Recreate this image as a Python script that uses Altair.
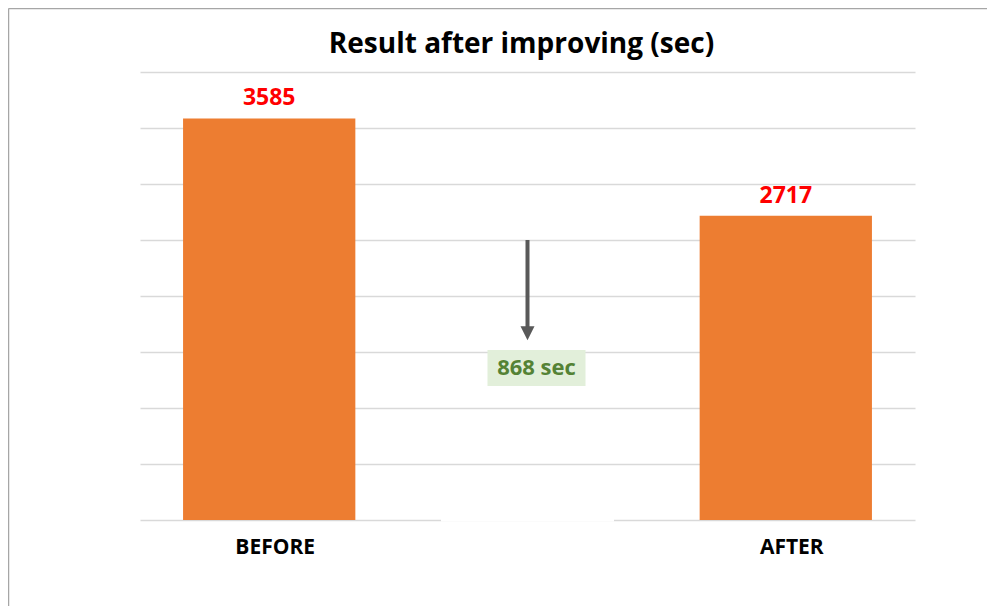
import altair as alt
import pandas as pd

# ---- data ----
categories = ["BEFORE", "mid", "AFTER"]
bar_names = ["BEFORE", "AFTER"]
bar_values = [3585, 2717]
grid_ticks = [0, 500, 1000, 1500, 2000, 2500, 3000, 3500, 4000]

# annotation (arrow + callout) in data units
arrow_start = 2500
arrow_end = 1720
arrow_head = 1668
callout_text = f"{bar_values[0] - bar_values[1]} sec"
callout_y = 1357
callout_box_top = 1518
callout_box_bottom = 1196

FONT = "Open Sans"
ORANGE = "#ED7D31"

bars_df = pd.DataFrame({"cat": bar_names, "value": bar_values})
mid_df = pd.DataFrame({
    "cat": ["mid"],
    "a0": [arrow_start], "a1": [arrow_end], "ah": [arrow_head],
    "ty": [callout_y], "b0": [callout_box_top], "b1": [callout_box_bottom],
    "label": [callout_text], "zero": [0],
})

x = alt.X(
    "cat:N",
    sort=categories,
    scale=alt.Scale(domain=categories, paddingInner=0.333, paddingOuter=0.1667),
    axis=alt.Axis(
        title=None, ticks=False, domain=False, grid=False, labelAngle=0,
        labelExpr="datum.value == 'mid' ? '' : datum.value",
        labelFont=FONT, labelFontSize=21, labelFontWeight="bold",
        labelColor="#000000", labelPadding=16, labelOffset=6,
    ),
)
yscale = alt.Scale(domain=[0, 4000], nice=False)
yaxis = alt.Axis(
    title=None, labels=False, ticks=False, domain=False, values=grid_ticks,
    grid=True, gridColor="#D9D9D9", gridWidth=1.5,
)


def yq(field):
    return alt.Y(field, scale=yscale, axis=yaxis)


bars = alt.Chart(bars_df).mark_bar(color=ORANGE).encode(
    x=x, y=yq("value:Q")
)
labels = alt.Chart(bars_df).mark_text(
    font=FONT, fontSize=23, fontWeight="bold", color="#FF0000",
    baseline="alphabetic", dy=-13,
).encode(x=x, y=yq("value:Q"), text=alt.Text("value:Q", format="d"))

baseline_cover = alt.Chart(mid_df).mark_tick(
    color="#FFFFFF", thickness=3, size=173, opacity=1
).encode(x=x, y=yq("zero:Q"))

shaft = alt.Chart(mid_df).mark_rule(color="#595959", strokeWidth=4).encode(
    x=x, y=yq("a0:Q"), y2="a1:Q"
)
head = alt.Chart(mid_df).mark_point(
    shape="M-1,-1L1,-1L0,1Z", filled=True, size=196, color="#595959", opacity=1
).encode(x=x, y=yq("ah:Q"))

box = alt.Chart(mid_df).mark_bar(color="#E2EFDA", width=98, xOffset=9).encode(
    x=x, y=yq("b0:Q"), y2="b1:Q"
)
callout = alt.Chart(mid_df).mark_text(
    font=FONT, fontSize=22, fontWeight="bold", color="#548235",
    baseline="middle", dx=9,
).encode(x=x, y=yq("ty:Q"), text="label:N")

frame_top = alt.Chart(mid_df).mark_rule(color="#A6A6A6", strokeWidth=1.5).encode(
    x=alt.value(-131.5), x2=alt.value(860), y=alt.value(-63.5)
)
frame_left = alt.Chart(mid_df).mark_rule(color="#A6A6A6", strokeWidth=1.5).encode(
    x=alt.value(-131.5), y=alt.value(-63.5), y2=alt.value(540)
)

chart = alt.layer(
    bars, labels, baseline_cover, shaft, head, box, callout, frame_top, frame_left
).properties(
    width=775,
    height=448,
    title=alt.TitleParams(
        "Result after improving (sec)", font=FONT, fontSize=28, fontWeight="bold",
        color="#000000", anchor="middle", baseline="alphabetic", offset=-73, dx=-6,
    ),
    autosize=alt.AutoSizeParams(type="none"),
    padding={"left": 132, "top": 64, "right": 72, "bottom": 86},
).configure(background="#FFFFFF").configure_view(
    stroke="transparent", strokeWidth=0
).configure_axis(domain=False)

chart.save("out.html", embed_options={"renderer": "svg", "actions": False})
